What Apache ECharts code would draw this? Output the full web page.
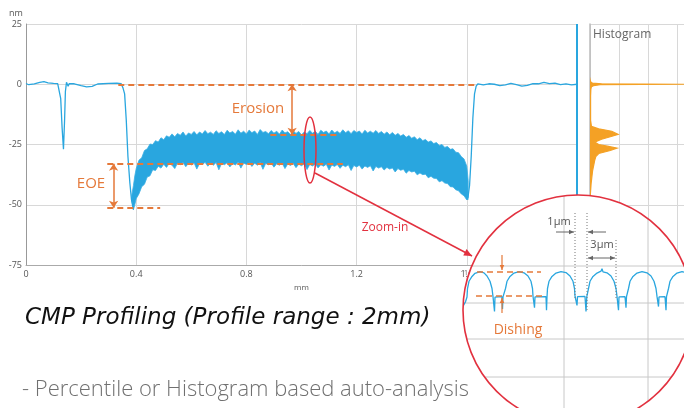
<!DOCTYPE html>
<html><head><meta charset="utf-8">
<script src="https://cdn.jsdelivr.net/npm/echarts@6/dist/echarts.min.js"></script>
<style>html,body{margin:0;padding:0;background:#fff}#c{width:684px;height:408px}</style>
</head><body><div id="c"></div>
<script>
// ---------- data ----------
const yTicks = [-75, -50, -25, 0, 25];           // nm
const xTicks = [0, 0.4, 0.8, 1.2, 1.6, 2.0];     // mm

// profile before the trench band (mm, nm)
const profileLeft = [[0,0.3],[0.01,-0.2],[0.03,0.2],[0.05,0.8],[0.065,1.1],[0.08,0.6],[0.1,0.4],[0.115,0.3],[0.121,-0.5],[0.126,-6],[0.131,-18],[0.136,-27],[0.14,-15],[0.143,-3],[0.147,0.8],[0.15,1.4],[0.153,-0.8],[0.157,0.3],[0.175,0.2],[0.2,-0.6],[0.22,-1.1],[0.24,-0.9],[0.26,0.1],[0.3,0.4],[0.33,0.5],[0.345,0.3],[0.352,-1.5],[0.358,-4],[0.364,-15],[0.37,-30],[0.377,-41],[0.383,-48],[0.39,-52]];

// noisy band of the eroded region: [mm, lower nm, upper nm]
const bandRows = [
 [0.384,-48,-46],[0.39,-52,-42],[0.395,-50,-38],
 [0.40,-47.5,-35],[0.41,-45.5,-31.5],[0.42,-42.5,-30.5],[0.43,-41.5,-27.5],[0.44,-38.5,-26.8],[0.45,-38,-24.8],[0.46,-35.5,-25],[0.47,-35.8,-23.4],[0.48,-34,-24],[0.49,-34.8,-22.2],
 [0.50,-33.2,-23],[0.51,-34.5,-21.4],[0.52,-32.8,-22],[0.53,-33.6,-20.6],[0.54,-35,-21.8],[0.55,-32.7,-20.4],[0.56,-33.4,-21.2],[0.57,-32.5,-19.8],[0.58,-34.2,-21.5],[0.59,-32.8,-20.2],
 [0.60,-33.5,-20.8],[0.61,-32.6,-19.6],[0.62,-35.2,-21],[0.63,-32.9,-19.8],[0.64,-33.3,-20.6],[0.65,-32.4,-19.2],[0.66,-34,-20.5],[0.67,-32.7,-19.9],[0.68,-33.6,-20.8],[0.69,-32.5,-19.3],
 [0.70,-35.5,-20.4],[0.71,-32.8,-19.7],[0.72,-33.4,-20.9],[0.73,-32.6,-19.1],[0.74,-34.3,-20.2],[0.75,-32.9,-19.6],[0.76,-33.5,-20.7],[0.77,-32.4,-18.9],[0.78,-34.8,-20.3],[0.79,-32.7,-19.5],
 [0.80,-33.3,-20.6],[0.81,-32.6,-19],[0.82,-34.1,-20.1],[0.83,-32.8,-19.4],[0.84,-33.6,-20.8],[0.85,-32.5,-18.8],[0.86,-35.3,-20],[0.87,-32.9,-19.6],[0.88,-33.4,-20.5],[0.89,-32.7,-19.2],
 [0.90,-34.4,-20.3],[0.91,-33,-19.5],[0.92,-33.6,-20.7],[0.93,-32.8,-19],[0.94,-35,-20.2],[0.95,-33.1,-19.7],[0.96,-33.7,-20.9],[0.97,-32.9,-19.3],[0.98,-34.6,-20.4],[0.99,-33.2,-19.6],
 [1.00,-33.8,-21],[1.01,-33,-19.8],[1.02,-35.4,-20.5],[1.03,-33.3,-19.2],[1.04,-33.9,-20.3],[1.05,-33.1,-19.5],[1.06,-34.7,-20.8],[1.07,-33.4,-19.1],[1.08,-34,-20],[1.09,-33.2,-19.4],
 [1.10,-35.6,-20.6],[1.11,-33.5,-19],[1.12,-34.1,-20.2],[1.13,-33.3,-19.5],[1.14,-34.9,-20.4],[1.15,-33.6,-18.9],[1.16,-34.2,-20.1],[1.17,-33.4,-19.3],[1.18,-35.8,-20.5],[1.19,-33.7,-19.2],
 [1.20,-34.3,-20],[1.21,-33.6,-19.4],[1.22,-35.2,-20.6],[1.23,-33.9,-19.1],[1.24,-34.5,-20.2],[1.25,-33.8,-19.5],[1.26,-36,-20.3],[1.27,-34.1,-19.2],[1.28,-34.8,-20.4],[1.29,-34.2,-19.6],
 [1.30,-35.6,-20.7],[1.31,-34.5,-19.8],[1.32,-35.2,-21],[1.33,-34.7,-20],[1.34,-36.4,-21.2],[1.35,-35,-20.4],[1.36,-35.7,-21.5],[1.37,-35.3,-20.8],[1.38,-36.9,-22],[1.39,-35.8,-21.3],
 [1.40,-36.4,-22.4],[1.41,-36.1,-21.8],[1.42,-37.6,-23],[1.43,-36.8,-22.2],[1.44,-37.5,-23.4],[1.45,-37.3,-22.9],[1.46,-38.8,-24],[1.47,-38.2,-23.5],[1.48,-39,-24.6],[1.49,-39.1,-24.2],
 [1.50,-40.5,-25.4],[1.51,-40,-25],[1.52,-41,-26.2],[1.53,-41.2,-25.8],[1.54,-42.5,-27],[1.55,-42.6,-26.8],[1.56,-43.8,-28.2],[1.57,-44.2,-28.4],[1.58,-45.5,-30],[1.59,-46.3,-31],
 [1.60,-48,-34],[1.605,-47,-40]
];

// profile after the band
const profileRight = [[1.603,-48],[1.61,-42],[1.616,-30],[1.622,-14],[1.628,-4],[1.634,-0.8],[1.64,0.2],[1.66,-0.3],[1.68,0.2],[1.70,0],[1.72,-0.6],[1.74,-0.3],[1.76,0.4],[1.78,-0.2],[1.80,-0.8],[1.82,-0.5],[1.84,0.3],[1.86,0.2],[1.88,0.8],[1.90,0.3],[1.92,0.5],[1.94,-0.2],[1.96,0.2],[1.98,-0.3],[2.0,0]];

// histogram (height in nm, count in grid units)
const histNm    = [2, 1, 0.5, 0.2, 0, -0.2, -0.6, -1, -2, -5, -10, -15, -17.5, -18.5, -19.5, -20.8, -21.8, -22.8, -24, -25, -25.7, -26.5, -27.5, -28.75, -30, -31.7, -35.8, -41, -46, -50];
const histCount = [0, 0.02, 0.08, 0.4, 3.24, 0.35, 0.12, 0.05, 0.03, 0.02, 0.02, 0.02, 0.05, 0.3, 0.75, 0.97, 0.7, 0.4, 0.16, 0.3, 0.6, 0.93, 0.7, 0.3, 0.2, 0.16, 0.09, 0.04, 0.01, 0];

// zoom-in profile (µm, nm)
const insetProfile = [[0.05,-14],[0.25,-12.5],[0.4,-10.5],[0.45,-7],[0.6,-4],[0.9,-2],[1.2,-0.7],[1.7,0],[2.1,-0.5],[2.4,-1.8],[2.7,-4],[2.9,-7],[3.0,-10.4],
 [3.1,-10.5],[3.15,-16.5],[3.2,-10.6],[3.9,-10.4],[3.95,-15.5],[4.0,-10.5],[4.2,-10.3],
 [4.25,-7],[4.4,-4],[4.7,-2],[5.1,-0.6],[5.6,0],[6.1,-0.5],[6.5,-1.8],[6.8,-4],[6.95,-7],[7.0,-10.2],
 [7.1,-10.4],[7.15,-15],[7.2,-10.5],[8.3,-10.4],[8.35,-16],[8.4,-10.5],
 [8.45,-7],[8.6,-4],[8.9,-2],[9.3,-0.6],[9.8,0],[10.3,-0.4],[10.7,-1.8],[11.0,-4],[11.15,-7],[11.2,-10.2],
 [11.35,-10.3],[11.4,-14],[11.45,-10.4],[12.2,-10.3],[12.3,-16.5],[12.38,-10.4],[12.5,-10.2],
 [12.55,-7],[12.7,-4],[13.0,-2],[13.4,-0.6],[13.8,0.2],[13.9,1.2],[14.0,-0.1],[14.4,-0.5],[14.8,-1.8],[15.1,-4],[15.3,-7],[15.4,-10.3],
 [15.5,-10.4],[15.55,-16],[15.6,-10.5],[16.2,-10.4],[16.3,-15],[16.35,-10.4],[16.5,-10.2],
 [16.55,-7],[16.7,-4],[17.0,-2],[17.4,-0.6],[17.9,0],[18.4,-0.5],[18.8,-1.8],[19.1,-4],[19.3,-7],[19.4,-10.3],
 [19.5,-10.4],[19.55,-14.5],[19.6,-10.5],[20.2,-10.4],[20.3,-16],[20.35,-10.4],[20.5,-10.2],
 [20.55,-7],[20.7,-4],[21.0,-2],[21.4,-0.6],[21.9,0],[22.4,-0.5]];

// annotation values (mm, nm)
const erosionTop = 0, erosionBottom = -21, eoeTop = -33, eoeBottom = -51.2;
const topDash = [0.335, 1.64], erosionDash = [0.887, 1.13], eoeTopDash = [0.295, 1.15], eoeBottomDash = [0.295, 0.487];
const erosionArrowX = 0.966, eoeArrowX = 0.318;

// ---------- styling ----------
const FONT = '"Open Sans", "Noto Sans", sans-serif';
const ORANGE = '#e5793a', CYAN = '#29a6df', RED = '#e2313f', HIST = '#f4a125', GRIDC = '#d8d8d8';
const CX = 578, CY = 310, R = 115;

function chordH(y){const d=Math.sqrt(R*R-(y-CY)*(y-CY));return {type:'line',silent:true,z:12,shape:{x1:CX-d,y1:y,x2:CX+d,y2:y},style:{stroke:'#c8c8c8',lineWidth:1}};}
function chordV(x){const d=Math.sqrt(R*R-(x-CX)*(x-CX));return {type:'line',silent:true,z:12,shape:{x1:x,y1:CY-d,x2:x,y2:CY+d},style:{stroke:'#c8c8c8',lineWidth:1}};}
function head(x1,y1,x2,y2,color,s){const a=Math.atan2(y2-y1,x2-x1),w=s*0.45;
  return {type:'polygon',silent:true,z:30,shape:{points:[[x2,y2],[x2-s*Math.cos(a)+w*Math.sin(a),y2-s*Math.sin(a)-w*Math.cos(a)],[x2-s*Math.cos(a)-w*Math.sin(a),y2-s*Math.sin(a)+w*Math.cos(a)]]},style:{fill:color}};}
function arrow(x1,y1,x2,y2,color,both,lw,s){s=s||5;const els=[{type:'line',silent:true,z:30,shape:{x1,y1,x2,y2},style:{stroke:color,lineWidth:lw||1}}];
  els.push(head(x1,y1,x2,y2,color,s)); if(both) els.push(head(x2,y2,x1,y1,color,s)); return els;}
function seg(x1,y1,x2,y2,color,dash,lw){return {type:'line',silent:true,z:30,shape:{x1,y1,x2,y2},style:{stroke:color,lineWidth:lw||1,lineDash:dash||null}};}
function txt(x,y,t,font,color,align){return {type:'text',silent:true,z:30,x:x,y:y,style:{text:t,font:font,fill:color,textAlign:align||'center',textVerticalAlign:'middle'}};}

function dashLine(x1,x2,y){return [{coord:[x1,y],symbol:'none'},{coord:[x2,y],symbol:'none',lineStyle:{type:[6,4],color:ORANGE,width:2}}];}
function vArrow(x,y1,y2){return [{coord:[x,y1],symbol:'arrow'},{coord:[x,y2],symbol:'arrow',lineStyle:{type:'solid',color:ORANGE,width:1.5}}];}

const graphics = [
  txt(16,13,'nm','9px '+FONT,'#555'),
  txt(593,35,'Histogram','12px '+FONT,'#666','left'),
  txt(258,109,'Erosion','15px '+FONT,ORANGE),
  txt(91,184,'EOE','15px '+FONT,ORANGE),
  txt(385,228,'Zoom-in','12px '+FONT,RED),
  {type:'ellipse',silent:true,z:30,shape:{cx:310,cy:150,rx:6,ry:33},style:{fill:null,stroke:RED,lineWidth:1.5}},
  ...arrow(315,173,472,256,RED,false,1.5,8),
  {type:'circle',silent:true,z:10,shape:{cx:CX,cy:CY,r:R},style:{fill:'#fff',stroke:null}},
  chordH(266),chordH(303),chordH(339),chordH(377),chordV(564),chordV(648),
  txt(466,273,'1','7px '+FONT,'#666'),
  {type:'circle',silent:true,z:40,shape:{cx:CX,cy:CY,r:R},style:{fill:null,stroke:RED,lineWidth:1.6}},
  // 1µm / 3µm markers
  seg(575,213,575,300,'#777',[1,2]), seg(587,213,587,310,'#777',[1,2]), seg(616,240,616,300,'#777',[1,2]),
  txt(559,222,'1µm','11px '+FONT,'#555'),
  ...arrow(556,232,574,232,'#666',false,1,5),
  ...arrow(606,232,588,232,'#666',false,1,5),
  txt(602,245,'3µm','11px '+FONT,'#555'),
  ...arrow(588,258,615,258,'#666',true,1,5),
  // dishing
  seg(477,272,541,272,ORANGE,[6,4],1.5), seg(476,296,544,296,ORANGE,[6,4],1.5),
  ...arrow(502,255,502,270,ORANGE,false,1.2,5),
  ...arrow(502,313,502,298,ORANGE,false,1.2,5),
  txt(518,330,'Dishing','14px '+FONT,ORANGE),
  // captions
  txt(25,318,'CMP Profiling (Profile range : 2mm)','oblique 23px "DejaVu Sans", sans-serif','#111','left'),
  txt(22,390,'- Percentile or Histogram based auto-analysis','300 22px '+FONT,'#707070','left')
];

const chart = echarts.init(document.getElementById('c'));
chart.setOption({
  animation:false,
  backgroundColor:'#fff',
  textStyle:{fontFamily:FONT},
  grid:[
    {left:26,right:107,top:24,bottom:143},
    {left:590,right:0,top:24,bottom:143},
    {left:463,right:0,top:262,height:53}
  ],
  xAxis:[
    {gridIndex:0,type:'value',min:xTicks[0],max:xTicks[xTicks.length-1],interval:0.4,name:'mm',nameLocation:'middle',nameGap:17,
      nameTextStyle:{fontSize:8,color:'#555'},axisLine:{show:true,onZero:false,lineStyle:{color:'#aaa'}},axisTick:{show:false},
      axisLabel:{fontSize:9,color:'#555',margin:5},splitLine:{show:true,lineStyle:{color:GRIDC}}},
    {gridIndex:1,type:'value',min:0,max:3.24,interval:1,axisLine:{show:false,onZero:false},axisTick:{show:false},axisLabel:{show:false},
      splitLine:{show:true,lineStyle:{color:GRIDC}}},
    {gridIndex:2,type:'value',min:0,max:22.1,show:false}
  ],
  yAxis:[
    {gridIndex:0,type:'value',min:yTicks[0],max:yTicks[yTicks.length-1],interval:25,axisLine:{show:true,onZero:false,lineStyle:{color:'#999'}},
      axisTick:{show:false},axisLabel:{fontSize:9,color:'#555',margin:4},splitLine:{show:true,lineStyle:{color:GRIDC}}},
    {gridIndex:1,type:'value',min:-75,max:25,interval:25,axisLine:{show:true,onZero:false,lineStyle:{color:'#bbb',width:1.5}},
      axisTick:{show:false},axisLabel:{show:false},splitLine:{show:true,lineStyle:{color:GRIDC}}},
    {gridIndex:2,type:'value',min:-18,max:4,show:false}
  ],
  series:[
    {type:'line',name:'profileLeft',xAxisIndex:0,yAxisIndex:0,data:profileLeft,showSymbol:false,z:3,
      lineStyle:{color:CYAN,width:1.3},
      markLine:{silent:true,symbolSize:7,label:{show:false},animation:false,
        data:[
          dashLine(topDash[0],topDash[1],erosionTop),
          dashLine(erosionDash[0],erosionDash[1],erosionBottom),
          dashLine(eoeTopDash[0],eoeTopDash[1],eoeTop),
          dashLine(eoeBottomDash[0],eoeBottomDash[1],eoeBottom),
          vArrow(erosionArrowX,erosionTop,erosionBottom),
          vArrow(eoeArrowX,eoeTop,eoeBottom),
          [{coord:[2.0,25],symbol:'none'},{coord:[2.0,-75],symbol:'none',lineStyle:{type:'solid',color:CYAN,width:2}}]
        ]}},
    {type:'custom',name:'band',xAxisIndex:0,yAxisIndex:0,z:2,silent:true,
      data:bandRows,encode:{x:0,y:[1,2]},
      renderItem:(params,api)=>{
        if(params.dataIndex!==0) return null;
        const pts=[];
        for(let i=0;i<bandRows.length;i++) pts.push(api.coord([bandRows[i][0],bandRows[i][2]]));
        for(let i=bandRows.length-1;i>=0;i--) pts.push(api.coord([bandRows[i][0],bandRows[i][1]]));
        return {type:'polygon',shape:{points:pts},style:{fill:CYAN,stroke:'#3aaee3',lineWidth:0.8}};
      }},
    {type:'line',name:'profileRight',xAxisIndex:0,yAxisIndex:0,data:profileRight,showSymbol:false,z:3,lineStyle:{color:CYAN,width:1.3}},
    {type:'custom',name:'histogram',xAxisIndex:1,yAxisIndex:1,z:2,silent:true,clip:true,
      data:histNm.map((v,i)=>[histCount[i],v]),encode:{x:0,y:1},
      renderItem:(params,api)=>{
        if(params.dataIndex!==0) return null;
        const pts=[api.coord([0,histNm[0]])];
        for(let i=0;i<histNm.length;i++) pts.push(api.coord([histCount[i],histNm[i]]));
        pts.push(api.coord([0,histNm[histNm.length-1]]));
        return {type:'polygon',shape:{points:pts},style:{fill:HIST,stroke:HIST,lineWidth:1.2}};
      }},
    {type:'line',name:'inset',xAxisIndex:2,yAxisIndex:2,data:insetProfile,showSymbol:false,z:20,clip:true,
      lineStyle:{color:CYAN,width:1.3}}
  ],
  graphic:graphics
});
</script></body></html>
